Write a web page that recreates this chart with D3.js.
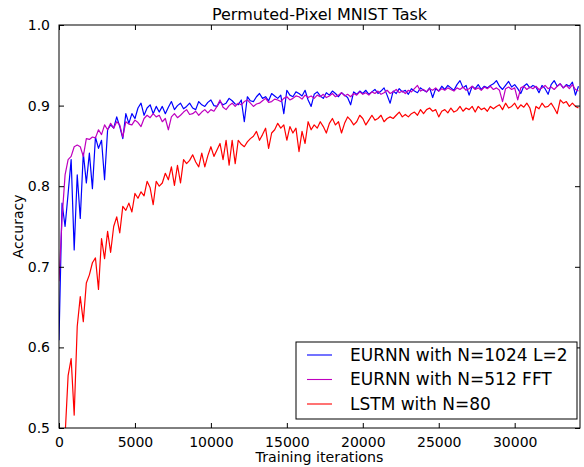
<!DOCTYPE html>
<html>
<head>
<meta charset="utf-8">
<script src="https://cdn.jsdelivr.net/npm/d3@7"></script>
<style>
  body { margin: 0; background: #fff; }
  text { font-family: "DejaVu Sans", sans-serif; fill: #000; }
</style>
</head>
<body>
<svg id="chart" width="584" height="467"></svg>
<script>
// iterations between logged points
const step = 200;

const eurnnL2 = [
  0.609, 0.779, 0.750, 0.791, 0.833, 0.721, 0.814, 0.760, 0.841, 0.804,
  0.841, 0.797, 0.861, 0.847, 0.857, 0.808, 0.870, 0.876, 0.872, 0.886,
  0.874, 0.859, 0.890, 0.878, 0.890, 0.884, 0.897, 0.903, 0.888, 0.897,
  0.901, 0.890, 0.899, 0.892, 0.899, 0.890, 0.898, 0.905, 0.895, 0.900,
  0.903, 0.896, 0.899, 0.903, 0.897, 0.895, 0.905, 0.901, 0.899, 0.904,
  0.907, 0.900, 0.899, 0.905, 0.901, 0.903, 0.909, 0.906, 0.902, 0.901,
  0.907, 0.880, 0.911, 0.906, 0.905, 0.911, 0.915, 0.909, 0.911, 0.906,
  0.915, 0.912, 0.909, 0.913, 0.890, 0.919, 0.913, 0.911, 0.917, 0.915,
  0.912, 0.919, 0.907, 0.899, 0.914, 0.917, 0.912, 0.909, 0.916, 0.913,
  0.918, 0.915, 0.911, 0.916, 0.913, 0.910, 0.901, 0.917, 0.914, 0.918,
  0.915, 0.919, 0.914, 0.917, 0.920, 0.915, 0.918, 0.922, 0.913, 0.903,
  0.918, 0.915, 0.921, 0.917, 0.919, 0.914, 0.921, 0.918, 0.916, 0.922,
  0.919, 0.917, 0.922, 0.910, 0.921, 0.918, 0.924, 0.920, 0.925, 0.922,
  0.919, 0.926, 0.931, 0.922, 0.925, 0.913, 0.924, 0.921, 0.926, 0.920,
  0.924, 0.922, 0.925, 0.927, 0.931, 0.924, 0.920, 0.925, 0.930, 0.923,
  0.926, 0.921, 0.915, 0.924, 0.927, 0.922, 0.925, 0.923, 0.916, 0.925,
  0.921, 0.914, 0.926, 0.931, 0.924, 0.927, 0.922, 0.926, 0.924, 0.929,
  0.913, 0.924
];

const eurnnFFT = [
  0.682, 0.760, 0.814, 0.833, 0.837, 0.849, 0.851, 0.849, 0.837, 0.859,
  0.858, 0.861, 0.860, 0.870, 0.864, 0.876, 0.870, 0.878, 0.872, 0.880,
  0.876, 0.861, 0.880, 0.877, 0.876, 0.882, 0.879, 0.874, 0.884, 0.888,
  0.885, 0.890, 0.886, 0.888, 0.880, 0.884, 0.870, 0.886, 0.890, 0.885,
  0.888, 0.892, 0.895, 0.889, 0.890, 0.893, 0.888, 0.892, 0.895, 0.891,
  0.895, 0.893, 0.899, 0.907, 0.898, 0.895, 0.900, 0.903, 0.899, 0.903,
  0.901, 0.905, 0.907, 0.903, 0.899, 0.902, 0.903, 0.906, 0.909, 0.904,
  0.905, 0.908, 0.907, 0.905, 0.909, 0.911, 0.907, 0.909, 0.912, 0.911,
  0.908, 0.913, 0.910, 0.912, 0.909, 0.913, 0.911, 0.914, 0.910, 0.912,
  0.915, 0.911, 0.913, 0.916, 0.912, 0.914, 0.911, 0.915, 0.913, 0.917,
  0.914, 0.916, 0.913, 0.917, 0.915, 0.918, 0.914, 0.916, 0.919, 0.915,
  0.917, 0.920, 0.916, 0.918, 0.915, 0.919, 0.917, 0.921, 0.925, 0.918,
  0.920, 0.917, 0.921, 0.919, 0.922, 0.918, 0.921, 0.919, 0.922, 0.920,
  0.918, 0.922, 0.920, 0.923, 0.919, 0.921, 0.924, 0.920, 0.922, 0.919,
  0.923, 0.921, 0.924, 0.920, 0.922, 0.919, 0.905, 0.921, 0.923, 0.920,
  0.922, 0.907, 0.922, 0.924, 0.920, 0.923, 0.921, 0.924, 0.920, 0.922,
  0.925, 0.921, 0.923, 0.920, 0.924, 0.927, 0.922, 0.925, 0.921, 0.926,
  0.920, 0.918
];

const lstm = [
  0.300, 0.400, 0.490, 0.565, 0.586, 0.516, 0.626, 0.663, 0.632, 0.680,
  0.690, 0.705, 0.711, 0.672, 0.735, 0.710, 0.744, 0.718, 0.750, 0.762,
  0.742, 0.775, 0.770, 0.779, 0.768, 0.791, 0.785, 0.793, 0.788, 0.806,
  0.798, 0.777, 0.806, 0.800, 0.804, 0.816, 0.808, 0.824, 0.801, 0.826,
  0.804, 0.833, 0.828, 0.832, 0.839, 0.830, 0.824, 0.841, 0.824, 0.838,
  0.849, 0.837, 0.845, 0.853, 0.833, 0.857, 0.826, 0.857, 0.828, 0.857,
  0.852, 0.849, 0.855, 0.859, 0.862, 0.868, 0.857, 0.864, 0.872, 0.847,
  0.866, 0.870, 0.878, 0.872, 0.876, 0.857, 0.874, 0.866, 0.872, 0.843,
  0.868, 0.853, 0.880, 0.870, 0.876, 0.872, 0.880, 0.874, 0.866, 0.878,
  0.884, 0.876, 0.880, 0.866, 0.878, 0.886, 0.882, 0.876, 0.880, 0.888,
  0.884, 0.876, 0.882, 0.888, 0.882, 0.884, 0.888, 0.880, 0.884, 0.886,
  0.884, 0.888, 0.892, 0.886, 0.889, 0.886, 0.890, 0.892, 0.888, 0.895,
  0.890, 0.895, 0.897, 0.893, 0.895, 0.886, 0.893, 0.895, 0.891, 0.897,
  0.892, 0.894, 0.899, 0.893, 0.897, 0.895, 0.899, 0.892, 0.899, 0.895,
  0.897, 0.893, 0.899, 0.896, 0.899, 0.901, 0.895, 0.903, 0.897, 0.899,
  0.903, 0.896, 0.901, 0.898, 0.903, 0.897, 0.882, 0.899, 0.896, 0.903,
  0.898, 0.899, 0.903, 0.897, 0.890, 0.907, 0.903, 0.905, 0.899, 0.903,
  0.899, 0.897
];

const seriesNames = ["EURNN with N=1024 L=2", "EURNN with N=512 FFT", "LSTM with N=80"];
const seriesColors = ["#0000ff", "#bf00bf", "#ff0000"];
const xTicks = [0, 5000, 10000, 15000, 20000, 25000, 30000];
const yTicks = [0.5, 0.6, 0.7, 0.8, 0.9, 1.0];

const svg = d3.select("#chart");
const margin = { left: 59, right: 4, top: 25, bottom: 39 };
const width = +svg.attr("width");
const height = +svg.attr("height");
const plotW = width - margin.left - margin.right;
const plotH = height - margin.top - margin.bottom;

const x = d3.scaleLinear().domain([0, 34300]).range([0, plotW]);
const y = d3.scaleLinear().domain([0.5, 1.0]).range([plotH, 0]);

const g = svg.append("g").attr("transform", `translate(${margin.left},${margin.top})`);

g.append("defs").append("clipPath").attr("id", "plot-clip")
  .append("rect").attr("width", plotW).attr("height", plotH);

const line = d3.line()
  .x((d, i) => x(i * step))
  .y((d) => y(d));

const allSeries = [eurnnL2, eurnnFFT, lstm];
g.append("g").attr("clip-path", "url(#plot-clip)")
  .selectAll("path")
  .data(allSeries)
  .join("path")
  .attr("d", line)
  .attr("fill", "none")
  .attr("stroke", (d, i) => seriesColors[i])
  .attr("stroke-width", 1.2)
  .attr("stroke-linejoin", "round");

// axes, matplotlib classic style: inward ticks on all sides
const tickLen = 5;
const fmtY = d3.format(".1f");
const xAxisB = d3.axisBottom(x).tickValues(xTicks).tickSizeInner(-tickLen).tickSizeOuter(0).tickPadding(9).tickFormat(d3.format("d"));
const xAxisT = d3.axisTop(x).tickValues(xTicks).tickSizeInner(-tickLen).tickSizeOuter(0).tickFormat("");
const yAxisL = d3.axisLeft(y).tickValues(yTicks).tickSizeInner(-tickLen).tickSizeOuter(0).tickPadding(9).tickFormat(fmtY);
const yAxisR = d3.axisRight(y).tickValues(yTicks).tickSizeInner(-tickLen).tickSizeOuter(0).tickFormat("");

g.append("g").attr("transform", `translate(0,${plotH})`).call(xAxisB);
g.append("g").call(xAxisT);
g.append("g").call(yAxisL);
g.append("g").attr("transform", `translate(${plotW},0)`).call(yAxisR);

g.selectAll(".domain").remove();
g.selectAll(".tick line").attr("stroke", "#000");
g.selectAll(".tick text")
  .attr("font-family", "DejaVu Sans, sans-serif")
  .attr("font-size", 14)
  .attr("fill", "#000");

g.append("rect")
  .attr("width", plotW).attr("height", plotH)
  .attr("fill", "none").attr("stroke", "#000").attr("stroke-width", 1);

// title and axis labels
svg.append("text")
  .attr("x", margin.left + plotW / 2).attr("y", 20)
  .attr("text-anchor", "middle")
  .attr("font-size", 16)
  .text("Permuted-Pixel MNIST Task");

svg.append("text")
  .attr("x", margin.left + plotW / 2).attr("y", 462)
  .attr("text-anchor", "middle")
  .attr("font-size", 14.2)
  .text("Training iterations");

svg.append("text")
  .attr("transform", `translate(23,${margin.top + plotH / 2}) rotate(-90)`)
  .attr("text-anchor", "middle")
  .attr("font-size", 14)
  .text("Accuracy");

// legend
const legend = svg.append("g").attr("transform", "translate(296,342)");
legend.append("rect")
  .attr("width", 281).attr("height", 77)
  .attr("fill", "#fff").attr("stroke", "#000").attr("stroke-width", 1);

const item = legend.selectAll("g.item")
  .data(seriesNames)
  .join("g")
  .attr("class", "item")
  .attr("transform", (d, i) => `translate(0,${13 + i * 24.5})`);

item.append("line")
  .attr("x1", 11).attr("x2", 36)
  .attr("stroke", (d, i) => seriesColors[i])
  .attr("stroke-width", 1.1);

item.append("text")
  .attr("x", 54).attr("dy", "0.35em")
  .attr("font-size", 17)
  .text((d) => d);
</script>
</body>
</html>
